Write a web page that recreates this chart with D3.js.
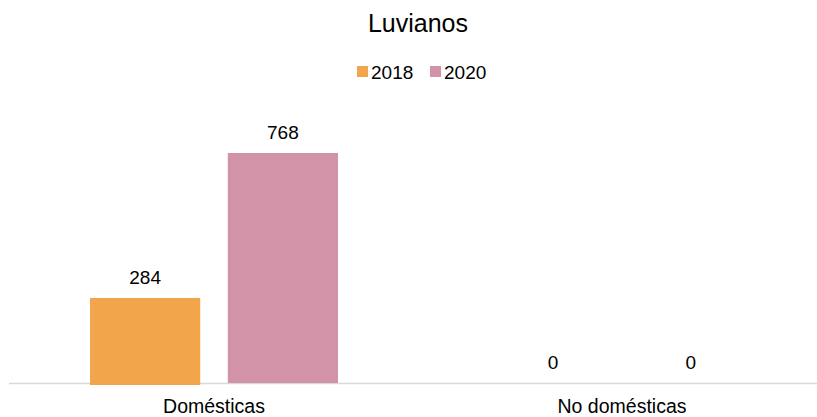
<!DOCTYPE html>
<html><head><meta charset="utf-8">
<script src="https://cdn.jsdelivr.net/npm/d3@7"></script>
<style>body{margin:0;background:#fff}svg{display:block}text{font-family:"Liberation Sans",Arial,sans-serif;fill:#000}</style>
</head><body><svg id="c" width="817" height="417"></svg>
<script>
const title = "Luvianos";
const categories = ["Domésticas", "No domésticas"];
const years = ["2018", "2020"];
const values2018 = [284, 0];
const values2020 = [768, 0];
const colors = ["#F2A54A", "#D292A8"];

const series = [values2018, values2020];
const data = categories.map((c, i) => ({cat: c, vals: years.map((y, j) => ({year: y, v: series[j][i], color: colors[j]}))}));

const svg = d3.select("#c");
const baseY = 383;
const x0 = d3.scaleBand().domain(categories).range([10, 826]);
const x1 = d3.scaleBand().domain(years).range([80, 328]).paddingInner(0.2);
const y = d3.scaleLinear().domain([0, 900]).range([baseY, baseY - 230 * 900 / 768]);

svg.append("text").attr("x", 418).attr("y", 32).attr("text-anchor", "middle").style("font-size", "25px").text(title);

// legend
const leg = svg.append("g");
const legX = [357, 430];
years.forEach((yr, j) => {
  leg.append("rect").attr("x", legX[j]).attr("y", 66).attr("width", 11).attr("height", 11).attr("fill", colors[j]);
  leg.append("text").attr("x", legX[j] + 14).attr("y", 78.5).style("font-size", "19px").text(yr);
});

// axis line
svg.append("line").attr("x1", 9).attr("x2", 817).attr("y1", baseY + 0.5).attr("y2", baseY + 0.5).attr("stroke", "#d9d9d9").attr("stroke-width", 1.5);

const g = svg.selectAll("g.cat").data(data).join("g").attr("class", "cat").attr("transform", d => `translate(${x0(d.cat)},0)`);
g.selectAll("rect").data(d => d.vals).join("rect")
  .attr("x", d => x1(d.year)).attr("width", x1.bandwidth())
  .attr("y", d => y(d.v)).attr("height", d => y(0) - y(d.v) + (d.v > 0 && d.year === "2018" ? 2 : 0))
  .attr("fill", d => d.color);
g.selectAll("text.lbl").data(d => d.vals).join("text").attr("class", "lbl")
  .attr("x", d => x1(d.year) + x1.bandwidth() / 2).attr("y", d => y(d.v) - 14)
  .attr("text-anchor", "middle").style("font-size", "19px").text(d => d.v);

// category labels
svg.selectAll("text.cat").data(categories).join("text").attr("class", "cat")
  .attr("x", d => x0(d) + (80 + 328) / 2).attr("y", 413)
  .attr("text-anchor", "middle").style("font-size", "19.5px").text(d => d);
</script></body></html>
